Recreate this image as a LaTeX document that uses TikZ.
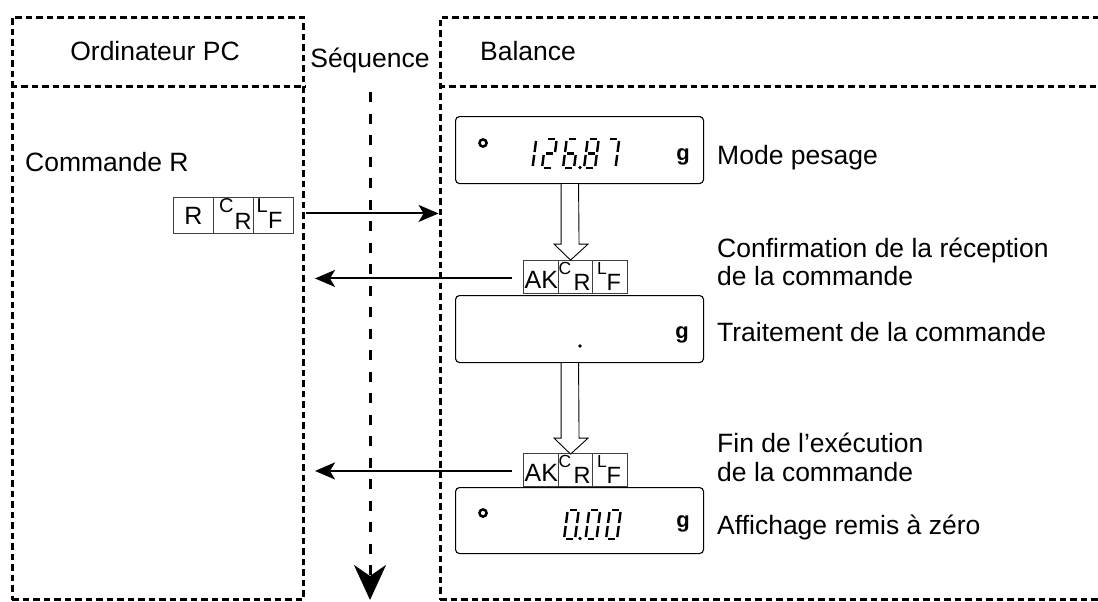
\documentclass[tikz,border=0pt]{standalone}
\usepackage{fontspec}
\setmainfont{Liberation Sans}
\usetikzlibrary{arrows.meta,calc}
\newcommand\fsz[1]{\fontsize{#1pt}{#1pt}\selectfont}
\def\dOne{11/-27/11/-16,11/-13/11/-2}
\def\dTwo{2.2/-29/8.8/-29,11/-27/11/-16,2.2/-14.5/8.8/-14.5,0/-2/0/-13,2.2/0/8.8/0}
\def\dSix{2.2/-29/8.8/-29,0/-16/0/-27,2.2/-14.5/8.8/-14.5,0/-2/0/-13,2.2/0/8.8/0,11/-13/11/-2}
\def\dEight{2.2/-29/8.8/-29,11/-27/11/-16,11/-13/11/-2,2.2/0/8.8/0,0/-2/0/-13,0/-16/0/-27,2.2/-14.5/8.8/-14.5}
\def\dSeven{2.2/-29/8.8/-29,11/-27/11/-16,11/-13/11/-2}
\def\dZero{2.2/-29/8.8/-29,11/-27/11/-16,11/-13/11/-2,2.2/0/8.8/0,0/-2/0/-13,0/-16/0/-27}
\newcommand\segdigit[3]{\begin{scope}[shift={(#1,#2)},xslant=0.13]\foreach \xa/\ya/\xb/\yb in #3 {\draw[seg] (\xa,\ya) -- (\xb,\yb);}\end{scope}}
\tikzset{
  frame/.style={draw, line width=3pt, dash pattern=on 6.5pt off 4pt, inner sep=0pt, anchor=north west},
  frameline/.style={line width=3pt, dash pattern=on 6.5pt off 4pt},
  seqline/.style={line width=3pt, dash pattern=on 10pt off 11.5pt},
  msg/.style={line width=2pt, -{Stealth[length=20pt,width=17pt,inset=5pt]}},
  cell/.style={draw=black!75, line width=0.9pt, minimum width=40pt, minimum height=36pt, inner sep=0pt, anchor=north west},
  akcell/.style={cell, minimum width=34.5pt, minimum height=33pt},
  disp/.style={draw, line width=1.1pt, rounded corners=4pt, minimum width=248pt, minimum height=67pt, anchor=north west, inner sep=0pt},
  lbl/.style={anchor=base west, inner sep=0pt, font=\fsz{26.5}},
  small/.style={anchor=base west, inner sep=0pt, font=\fsz{17.5}},
  big/.style={anchor=base west, inner sep=0pt, font=\fsz{23.5}},
  seg/.style={line width=2.4pt},
  hollow/.style={draw, fill=white, line width=0.9pt},
  unit/.style={font=\fsz{22}\bfseries, inner sep=0pt},
}
\begin{document}
\begin{tikzpicture}[x=1pt,y=-1pt]
\useasboundingbox (0,0) rectangle (1098,602);
\clip (0,0) rectangle (1098,602);
% frames
\node[frame, minimum width=291.3pt, minimum height=582pt] (pc) at (10.7,16) {};
\node[frame, minimum width=700pt, minimum height=582pt] (bal) at (438.6,16) {};
\draw[frameline] (pc.west |- 0,87) -- (pc.east |- 0,87);
\draw[frameline] (bal.west |- 0,87) -- (bal.east |- 0,87);
\node[anchor=base, inner sep=0pt, font=\fsz{26.5}] (pct) at (155,60) {Ordinateur PC};
\node[lbl] (balt) at (480,60) {Balance};
% sequence
\node[anchor=base, inner sep=0pt, font=\fsz{26.5}] (seq) at (370,68) {Séquence};
\coordinate (seqend) at (370,600);
\draw[seqline, -{Stealth[length=35pt,width=32pt,inset=11pt]}] (370,92) -- (seqend);
% PC side
\node[lbl] (cmd) at (25,171) {Commande R};
\node[cell] (rc1) at (173,197) {};
\node[cell] (rc2) at (213,197) {};
\node[cell] (rc3) at (253,197) {};
\node[inner sep=0pt, font=\fsz{25}] at (rc1) {R};
\node[anchor=base west, inner sep=0pt, font=\fsz{20}] at ($(rc2.north west)+(6,15)$) {C};
\node[big] at ($(rc2.north west)+(21.5,32)$) {R};
\node[anchor=base west, inner sep=0pt, font=\fsz{20}] at ($(rc3.north west)+(3.5,15)$) {L};
\node[big] at ($(rc3.north west)+(15,31)$) {F};
% displays
\node[disp] (d1) at (455,116) {};
\node[disp] (d2) at (455,295) {};
\node[disp, minimum height=66pt] (d3) at (455,487) {};
% display 1 content
\draw[line width=2.5pt] (483,143) circle (3.6);
\segdigit{521.5}{168}{\dOne}
\segdigit{542}{168}{\dTwo}
\segdigit{563}{168}{\dSix}
\fill (580,167.5) circle (1.8);
\segdigit{584}{168}{\dEight}
\segdigit{604.5}{168}{\dSeven}
\node[unit] at (683,157) {g};
% display 2 content
\fill (580,346) circle (1.8);
\node[unit] at (682,335) {g};
% display 3 content
\draw[line width=2.5pt] (483,513) circle (3.6);
\segdigit{564}{539}{\dZero}
\fill (580,538.5) circle (1.8);
\segdigit{585.5}{539}{\dZero}
\segdigit{606}{539}{\dZero}
\node[unit] at (683,524) {g};
% AK boxes
\node[akcell] (ak1a) at (523,260) {};
\node[akcell] (ak1b) at (557.5,260) {};
\node[akcell] (ak1c) at (592,260) {};
\node[akcell] (ak2a) at (523,452.5) {};
\node[akcell] (ak2b) at (557.5,452.5) {};
\node[akcell] (ak2c) at (592,452.5) {};
\foreach \n in {ak1,ak2}{
  \node[anchor=base west, inner sep=0pt, font=\fsz{25}] at ($(\n a.north west)+(1.5,28.5)$) {AK};
  \node[small] at ($(\n b.north west)+(1,14.5)$) {C};
  \node[big] at ($(\n b.north west)+(16,30.5)$) {R};
  \node[small] at ($(\n c.north west)+(5,14.5)$) {L};
  \node[big] at ($(\n c.north west)+(14.5,30.5)$) {F};
}
% hollow arrows
\draw[hollow] ([xshift=-18.5pt]d1.south) -- ++(0,60) -- ++(-7,0) -- ++(16.5,16) -- ++(17.5,-16) -- ++(-9,0) -- ([xshift=-1pt]d1.south);
\draw[hollow] ([xshift=-18.5pt]d2.south) -- ++(0,75) -- ++(-7,0) -- ++(16.5,16) -- ++(17.5,-16) -- ++(-9,0) -- ([xshift=-1pt]d2.south);
% messages
\draw[msg] ([xshift=12pt,yshift=2pt]rc3.east) -- ($(bal.west |- rc3.east)+(0,-2)$);
\draw[msg] ([xshift=-11pt,yshift=-1.5pt]ak1a.west) -- ($(pc.east |- ak1a.west)+(10,1.5)$);
\draw[msg] ([xshift=-11pt,yshift=-1.5pt]ak2a.west) -- ($(pc.east |- ak2a.west)+(10,1.5)$);
% labels
\node[lbl] (l1) at (717,164) {Mode pesage};
\node[lbl] (l2a) at (717,257) {Confirmation de la réception};
\node[lbl] (l2b) at (717,285) {de la commande};
\node[lbl] (l3) at (717,341) {Traitement de la commande};
\node[lbl] (l4a) at (717,452) {Fin de l’exécution};
\node[lbl] (l4b) at (717,481) {de la commande};
\node[lbl] (l5) at (717,534) {Affichage remis à zéro};
\end{tikzpicture}
\end{document}
